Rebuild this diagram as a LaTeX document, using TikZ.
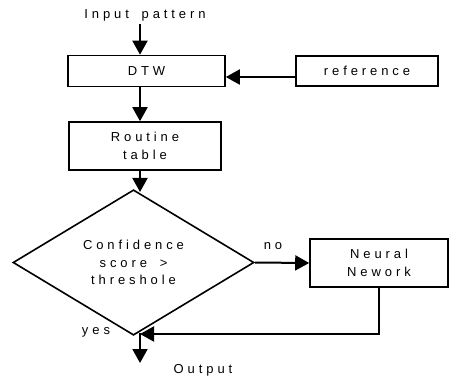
\documentclass[tikz,border=0pt]{standalone}
\usepackage{fontspec}
\setmainfont[LetterSpace=30,WordSpace=1.7]{Liberation Sans}
\usetikzlibrary{arrows.meta,shapes.geometric}

\tikzset{
  box/.style={draw, line width=1.6pt, inner sep=0pt, align=center},
  flow/.style={line width=2pt, -{Triangle[length=14pt,width=15pt]}},
}

\begin{document}
\begin{tikzpicture}[x=1pt, y=-1pt, font=\fontsize{13}{17.5}\selectfont]
        \useasboundingbox (0,0) rectangle (452,378);
        \coordinate (spine) at (140,0);
        \node (input) at (145,15) {Input pattern};
        \node[box, minimum width=157pt, minimum height=31pt] (dtw) at (146.5,71) {DTW};
        \node[box, minimum width=142pt, minimum height=30pt] (ref) at (367,71) {reference};
        \node[box, minimum width=152pt, minimum height=48pt] (routine) at (145,146) {Routine\\table};
        \node[box, diamond, minimum width=241pt, minimum height=107pt] (conf) at (133.5,262.5) {Confidence\\score >\\threshole};
        \node[box, minimum width=138pt, minimum height=48pt] (neural) at (379,263) {Neural\\Nework};
        \coordinate (join) at (140,334);
        \coordinate (out) at (140,363);
        \node (output) at (203,370) {Output};
        \node (no) at (273,246) {no};
        \node (yes) at (96,332) {yes};
        \draw[flow] (input.south -| spine) -- (dtw.north -| spine);
        \draw[flow] ([yshift=-6pt]ref.west) -- ([yshift=-6pt]dtw.east);
        \draw[flow] (dtw.south -| spine) -- (routine.north -| spine);
        \draw[flow] (routine.south -| spine) -- ([yshift=-3pt]conf.north -| spine);
        \draw[flow] (conf.east) -- (neural.west);
        \draw[flow] (neural.south) |- (join);
        \draw[flow] ([yshift=3pt]conf.south -| spine) -- (out);
      \end{tikzpicture}
\end{document}
